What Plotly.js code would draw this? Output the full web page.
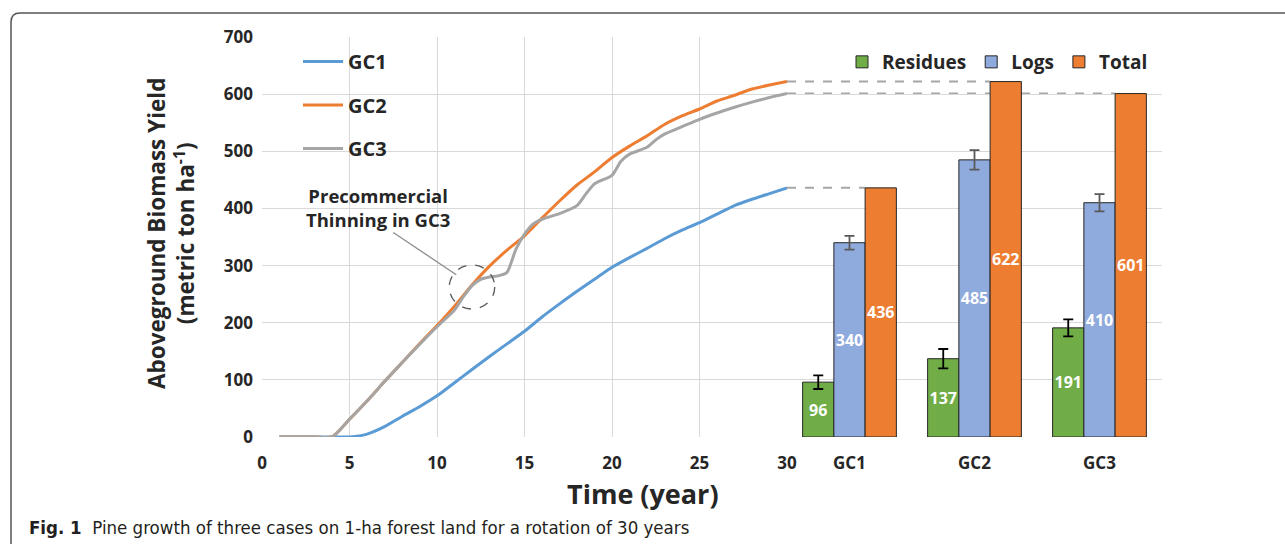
<!DOCTYPE html>
<html>
<head>
<meta charset="utf-8">
<script src="https://cdn.plot.ly/plotly-3.0.1.min.js"></script>
<style>html,body{margin:0;padding:0;background:#fff;}#chart{width:1285px;height:544px;}</style>
</head>
<body>
<div id="chart"></div>
<script>
// ---- data ----
const years = [1,2,3,4,5,6,7,8,9,10,11,12,13,14,15,16,17,18,19,20,21,22,23,24,25,26,27,28,29,30];
const gc1 = [0,0,0,0,0,5,18,36,53,72,95,118,141,163,185,210,233,255,276,297,314,330,347,362,375,390,405,416,426,436];
const gc2 = [0,0,0,0,31,63,97,130,163,195,229,266,299,327,352,383,413,441,464,489,509,527,547,562,574,588,598,609,616,622];
const gc3Years = [1,2,3,4,5,6,7,8,9,10,11,11.5,12,12.5,13,13.5,14,14.5,15,15.5,16,17,18,18.5,19,20,20.5,21,22,22.5,23,24,25,26,27,28,29,30];
const gc3 = [0,0,0,0,31,63,97,130,162,193,222,245,265,276,280,282,288,328,355,373,381,391,405,425,443,458,482,495,507,520,530,543,556,567,577,586,594,601];

const groups = ["GC1","GC2","GC3"];
const residues = [96,137,191];
const residuesErr = [12,17,15];
const logs = [340,485,410];
const logsErr = [12,17,15];
const totals = [436,622,601];

const yTicks = [0,100,200,300,400,500,600,700];
const xTicks = [0,5,10,15,20,25,30];

// ---- styling ----
const FONT = "Open Sans, Noto Sans, sans-serif";
const TXT = "#262626";
const bold = (size, color) => ({family: FONT, size: size, color: color || TXT, weight: "bold"});

const lineW = 3;
const traces = [
  {x: years, y: gc1, name: "GC1", type: "scatter", mode: "lines", line: {color: "#5b9bd5", width: lineW, shape: "spline", smoothing: 0.6}, xaxis: "x", yaxis: "y", legend: "legend", legendgroup: "a"},
  {x: years, y: gc2, name: "GC2", type: "scatter", mode: "lines", line: {color: "#ed7d31", width: lineW, shape: "spline", smoothing: 0.6}, xaxis: "x", yaxis: "y", legend: "legend", legendgroup: "b"},
  {x: gc3Years, y: gc3, name: "GC3", type: "scatter", mode: "lines", line: {color: "#a5a5a5", width: lineW, shape: "spline", smoothing: 0.6}, xaxis: "x", yaxis: "y", legend: "legend", legendgroup: "c"},
  {x: groups, y: residues, name: "Residues", type: "bar", xaxis: "x2", yaxis: "y", legend: "legend2",
   marker: {color: "#70ad47", line: {color: "#262626", width: 1}},
   error_y: {type: "data", array: residuesErr, visible: true, color: "#000000", thickness: 1.8, width: 5},
   text: residues.map(String), textposition: "inside", insidetextanchor: "middle", textangle: 0,
   textfont: bold(16, "#ffffff"), cliponaxis: false},
  {x: groups, y: logs, name: "Logs", type: "bar", xaxis: "x2", yaxis: "y", legend: "legend2",
   marker: {color: "#8faadc", line: {color: "#262626", width: 1}},
   error_y: {type: "data", array: logsErr, visible: true, color: "#595959", thickness: 1.8, width: 5},
   text: logs.map(String), textposition: "inside", insidetextanchor: "middle", textangle: 0,
   textfont: bold(16, "#ffffff"), cliponaxis: false},
  {x: groups, y: totals, name: "Total", type: "bar", xaxis: "x2", yaxis: "y", legend: "legend2",
   marker: {color: "#ed7d31", line: {color: "#262626", width: 1}},
   text: totals.map(String), textposition: "inside", insidetextanchor: "middle", textangle: 0,
   textfont: bold(16, "#ffffff"), cliponaxis: false}
];

// plot geometry (pixels)
const L = 262, R = 1162, T = 37, B = 437;
const W = R - L, H = B - T;
const px = p => (p - L) / W;
const py = p => (B - p) / H;
const split = 525 / W;
const bargap = 0.25;
const barW = (1 - bargap) / 3;

const shapes = [];
// dashed connectors from line ends to the total bars
totals.forEach((v, i) => {
  shapes.push({type: "line", xref: "x2", yref: "y", x0: -0.5, x1: i + barW / 2, y0: v, y1: v,
    line: {color: "#a6a6a6", width: 2, dash: "dash"}, layer: "below"});
});
// thinning ellipse
shapes.push({type: "circle", xref: "x", yref: "y", x0: 10.7, x1: 13.3, y0: 224, y1: 301,
  line: {color: "#595959", width: 1.3, dash: "dash"}});
// pointer line
shapes.push({type: "line", xref: "x", yref: "y", x0: 7.5, y0: 358, x1: 11.1, y1: 284,
  line: {color: "#8c8c8c", width: 1.3}});
// outer frame
shapes.push({type: "path", xref: "paper", yref: "paper",
  path: `M ${px(11)},${py(544)} L ${px(11)},${py(22)} Q ${px(11)},${py(13)} ${px(20)},${py(13)} L ${px(1285)},${py(13)}`,
  line: {color: "#555555", width: 1.5}});

const annotations = [
  {xref: "x", yref: "y", x: 6.6, y: 401, text: "Precommercial<br>Thinning in GC3", showarrow: false,
   font: bold(18.5), align: "center", xanchor: "center", yanchor: "middle"},
  {xref: "paper", yref: "paper", x: px(171), y: py(234), xanchor: "center", yanchor: "middle",
   text: "Aboveground Biomass Yield<br>(metric ton ha<sup>-1</sup>)",
   textangle: -90, showarrow: false, font: bold(22.5), align: "center"},
  {xref: "paper", yref: "paper", x: px(643), y: py(493), xanchor: "center", yanchor: "middle",
   text: "Time (year)", showarrow: false, font: bold(27)},
  {xref: "paper", yref: "paper", x: px(27), xanchor: "left", y: py(527), yanchor: "middle",
   text: "<b>Fig. 1</b>  Pine growth of three cases on 1-ha forest land for a rotation of 30 years",
   showarrow: false, font: {family: "DejaVu Sans Condensed, Liberation Sans Narrow, Liberation Sans, sans-serif", size: 18.5, color: "#231f20"}}
];

const layout = {
  width: 1285, height: 544,
  margin: {l: L, r: 1285 - R, t: T, b: 544 - B, pad: 0},
  paper_bgcolor: "#ffffff", plot_bgcolor: "#ffffff",
  font: {family: FONT, color: TXT},
  showlegend: true,
  barmode: "group", bargap: bargap, bargroupgap: 0,
  xaxis: {domain: [0, split], range: [0, 30], tickvals: xTicks, ticktext: xTicks.map(String),
    showgrid: true, gridcolor: "#d9d9d9", gridwidth: 1, zeroline: false, showline: false,
    tickfont: bold(17), ticks: "", ticklabelstandoff: 14, fixedrange: true},
  xaxis2: {domain: [split, 1], range: [-0.5, 2.5], type: "category", anchor: "y",
    showgrid: false, zeroline: false, showline: false, tickfont: bold(17), ticks: "", ticklabelstandoff: 14},
  yaxis: {range: [0, 700], tickvals: yTicks, ticktext: yTicks.map(String), showgrid: true,
    gridcolor: "#d9d9d9", gridwidth: 1, zeroline: false, showline: false, tickfont: bold(17),
    ticks: "", ticklabelstandoff: 8},
  legend: {x: px(298), y: py(42), xanchor: "left", yanchor: "top", orientation: "v",
    font: bold(20), bgcolor: "rgba(0,0,0,0)", tracegroupgap: 14.5, itemwidth: 40, traceorder: "grouped"},
  legend2: {x: px(842), y: py(43), xanchor: "left", yanchor: "top", orientation: "h",
    font: bold(19), bgcolor: "rgba(0,0,0,0)", itemwidth: 30, traceorder: "normal"},
  uniformtext: {mode: "show", minsize: 16},
  shapes: shapes,
  annotations: annotations
};

Plotly.newPlot("chart", traces, layout, {staticPlot: true, displayModeBar: false});
</script>
</body>
</html>
